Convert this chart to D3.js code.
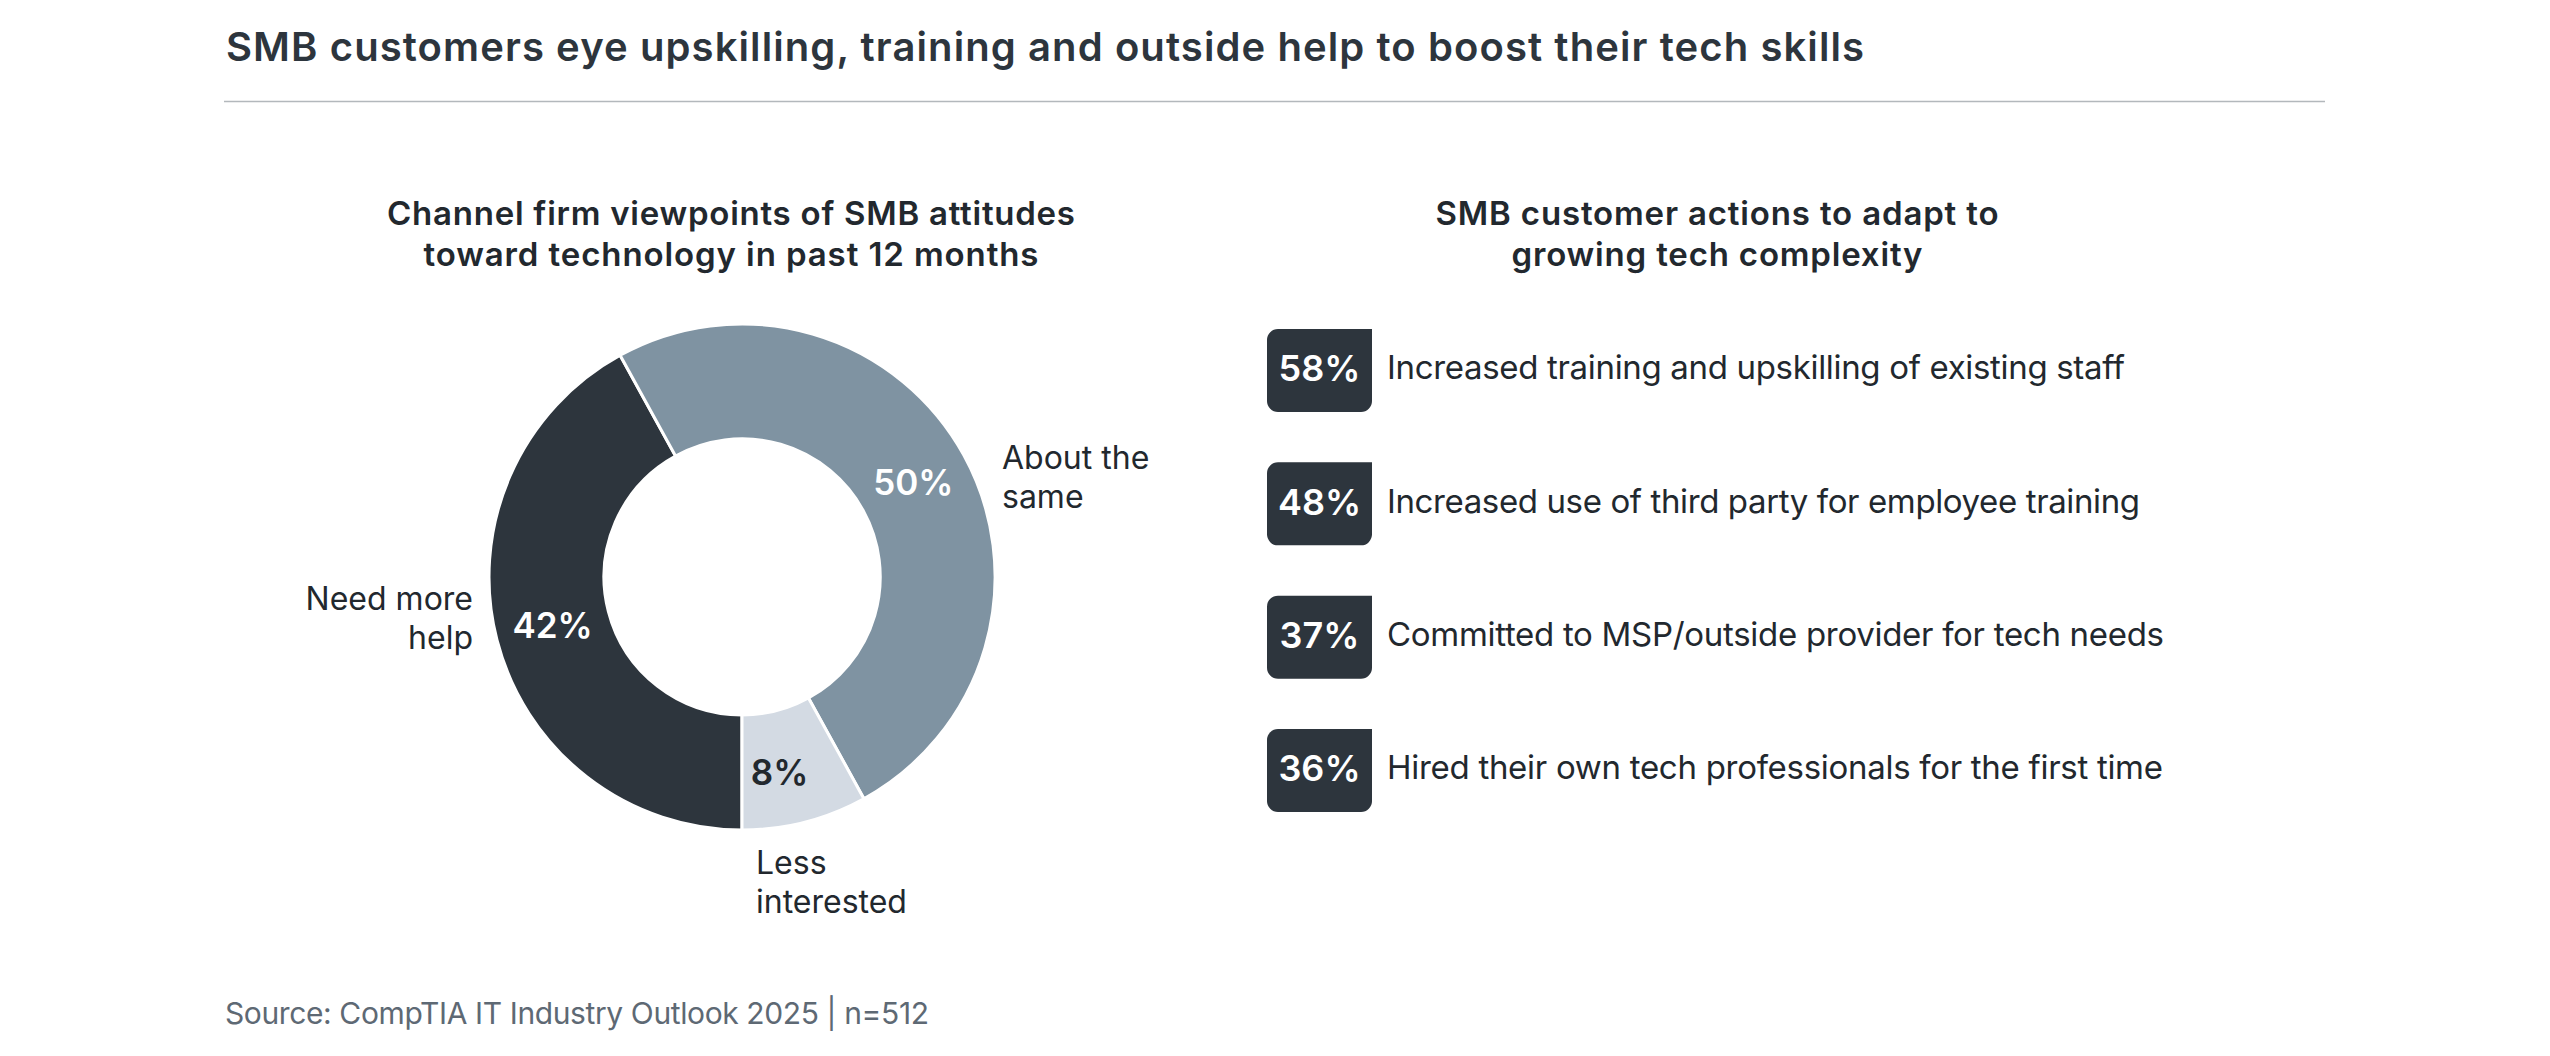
<!DOCTYPE html>
<html>
<head>
<meta charset="utf-8">
<script src="https://cdn.jsdelivr.net/npm/d3@7"></script>
<style>
  html, body { margin: 0; padding: 0; background: #ffffff; }
  svg { display: block; font-family: Inter, "Noto Sans", sans-serif; }
</style>
</head>
<body>
<svg id="chart" width="2550" height="1056"></svg>
<script>
// ---------- data ----------
const donutCategories = ["Need more help", "About the same", "Less interested"];
const donutValues = [42, 50, 8];
const donutLabelLines = [["Need more", "help"], ["About the", "same"], ["Less", "interested"]];

const actionLabels = [
  "Increased training and upskilling of existing staff",
  "Increased use of third party for employee training",
  "Committed to MSP/outside provider for tech needs",
  "Hired their own tech professionals for the first time"
];
const actionValues = [58, 48, 37, 36];

const titleText = "SMB customers eye upskilling, training and outside help to boost their tech skills";
const leftSubtitle = ["Channel firm viewpoints of SMB attitudes", "toward technology in past 12 months"];
const rightSubtitle = ["SMB customer actions to adapt to", "growing tech complexity"];
const sourceText = "Source: CompTIA IT Industry Outlook 2025 | n=512";

// ---------- styles ----------
const C_DARK = "#2d353d", C_MID = "#7f93a2", C_LIGHT = "#d3dae3", C_TEXT = "#22282e";
const svg = d3.select("#chart");

function fit(sel, w) { sel.attr("textLength", w).attr("lengthAdjust", "spacing"); return sel; }

// Title
fit(svg.append("text").attr("x", 226).attr("y", 61)
  .attr("font-size", 40).attr("font-weight", 600).attr("fill", C_DARK)
  .text(titleText), 1638);

svg.append("line").attr("x1", 224).attr("x2", 2325).attr("y1", 101.5).attr("y2", 101.5)
  .attr("stroke", "#b3b8bc").attr("stroke-width", 1.6);

// Subtitles
const subW = [[688, 615], [563, 411]];
[[leftSubtitle, 731], [rightSubtitle, 1717]].forEach(([lines, cx], k) => {
  lines.forEach((t, i) => {
    fit(svg.append("text").attr("x", cx).attr("y", 225 + i * 41)
      .attr("text-anchor", "middle").attr("font-size", 33).attr("font-weight", 600)
      .attr("fill", C_TEXT).text(t), subW[k][i]);
  });
});

// ---------- donut ----------
const cx = 742, cy = 577, R = 253, r = 138;
const color = d3.scaleOrdinal().domain(donutCategories).range([C_DARK, C_MID, C_LIGHT]);
const pie = d3.pie().sort(null).value(d => d).startAngle(Math.PI).endAngle(3 * Math.PI);
const arcs = pie(donutValues);
const arc = d3.arc().innerRadius(r).outerRadius(R);
const g = svg.append("g").attr("transform", `translate(${cx},${cy})`);
g.selectAll("path").data(arcs).join("path")
  .attr("d", arc)
  .attr("fill", (d, i) => color(donutCategories[i]))
  .attr("stroke", "#ffffff").attr("stroke-width", 3).attr("stroke-linejoin", "miter");

const pctNudge = [[0, 0], [0, 0], [-11, 6]];
g.selectAll("text.pct").data(arcs).join("text").attr("class", "pct")
  .attr("transform", (d, i) => { const c = arc.centroid(d); return `translate(${c[0] + pctNudge[i][0]},${c[1] + pctNudge[i][1]})`; })
  .attr("text-anchor", "middle").attr("dy", "0.36em")
  .attr("font-size", 35).attr("font-weight", 600)
  .attr("fill", (d, i) => i === 2 ? C_TEXT : "#ffffff")
  .text(d => d.data + "%");

// outside labels
arcs.forEach((d, i) => {
  const lines = donutLabelLines[i];
  let x, y, anchor;
  if (i === 0) { x = -269; y = 33; anchor = "end"; }          // left side
  else if (i === 1) { x = 260; y = -108; anchor = "start"; }  // right side
  else { x = 14; y = 297; anchor = "start"; }                 // bottom
  lines.forEach((t, j) => {
    g.append("text").attr("x", x).attr("y", y + j * 39)
      .attr("text-anchor", anchor).attr("font-size", 32).attr("font-weight", 400)
      .attr("fill", C_TEXT).text(t);
  });
});

// ---------- action list ----------
const y = d3.scaleBand().domain(actionLabels).range([329, 812]).paddingInner(0.377).paddingOuter(0);
const bx = 1267, bw = 105, rad = 11;
function badgePath(x0, y0, w, h, rr) {
  const p = d3.path();
  p.moveTo(x0 + rr, y0);
  p.lineTo(x0 + w, y0);
  p.lineTo(x0 + w, y0 + h - rr);
  p.arcTo(x0 + w, y0 + h, x0 + w - rr, y0 + h, rr);
  p.lineTo(x0 + rr, y0 + h);
  p.arcTo(x0, y0 + h, x0, y0 + h - rr, rr);
  p.lineTo(x0, y0 + rr);
  p.arcTo(x0, y0, x0 + rr, y0, rr);
  p.closePath();
  return p.toString();
}
const rowW = [738, 753, 777, 776];
const rows = svg.selectAll("g.row").data(actionLabels).join("g").attr("class", "row");
rows.append("path")
  .attr("d", d => badgePath(bx, y(d), bw, y.bandwidth(), rad))
  .attr("fill", C_DARK);
rows.append("text")
  .attr("x", bx + bw / 2).attr("y", d => y(d) + y.bandwidth() / 2 - 2).attr("dy", "0.36em")
  .attr("text-anchor", "middle").attr("font-size", 36).attr("font-weight", 600).attr("fill", "#ffffff")
  .text((d, i) => actionValues[i] + "%");
rows.append("text")
  .attr("x", 1387).attr("y", d => y(d) + y.bandwidth() / 2 - 3).attr("dy", "0.36em")
  .attr("font-size", 33).attr("font-weight", 400).attr("fill", C_TEXT)
  .text(d => d)
  .each(function(d, i) { fit(d3.select(this), rowW[i]); });

// Source
fit(svg.append("text").attr("x", 225).attr("y", 1024)
  .attr("font-size", 30).attr("font-weight", 400).attr("fill", "#5e6974")
  .text(sourceText), 704);
</script>
</body>
</html>
